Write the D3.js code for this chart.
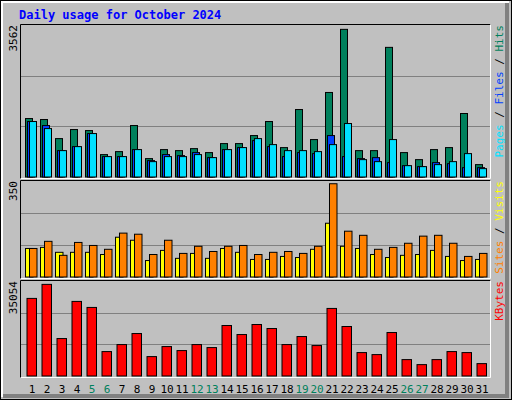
<!DOCTYPE html><html><head><script src="https://cdn.jsdelivr.net/npm/d3@7"></script>
<style>body{margin:0;background:#fff}</style></head><body><svg id="c" width="512" height="400"></svg>
<script>
const days=d3.range(1,32);
const weekends=[5,6,12,13,19,20,26,27];
const hits=[1370,1347,900,1112,1088,525,595,1206,431,642,618,665,572,783,783,971,1300,689,1581,877,1981,3460,618,618,3038,572,407,642,689,1488,290];
const files=[1300,1206,618,712,1018,478,478,642,384,525,501,572,454,642,689,853,712,478,572,548,971,478,431,454,337,266,243,337,313,219,219];
const pages=[1300,1135,618,712,1018,478,478,642,360,478,478,525,454,642,689,900,759,618,618,595,759,1253,407,360,877,266,243,290,360,548,196];
const visits=[104,108,90,90,90,82,145,134,60,97,68,86,68,104,90,64,64,75,71,101,196,112,104,82,71,79,82,97,75,60,64];
const sites=[104,130,79,126,115,101,160,156,82,134,86,112,93,112,115,82,90,93,86,112,340,167,152,101,108,123,149,152,123,75,86];
const kbytes=[28630,33810,13820,27520,25300,9010,11600,15670,7160,10860,9380,11600,10490,18630,15300,19000,17520,11600,14560,11230,24930,18260,8640,7900,16040,6050,4200,6050,9010,8640,4570];
const maxTop=3562,maxMid=350,maxBot=35054;
const svg=d3.select("#c");
svg.append("rect").attr("x",0).attr("y",0).attr("width",512).attr("height",400).attr("fill","#c0c0c0");
svg.append("rect").attr("x",0.5).attr("y",0.5).attr("width",511).attr("height",399).attr("fill","none").attr("stroke","#000");
svg.append("path").attr("d","M2,397V2H509").attr("stroke","#fff").attr("stroke-width",2).attr("fill","none");
svg.append("path").attr("d","M3,396H507V3").attr("stroke","#808080").attr("stroke-width",4).attr("fill","none");
svg.append("text").attr("x",19).attr("y",19).text("Daily usage for October 2024").attr("font-family","DejaVu Sans Mono").attr("font-weight","bold").attr("font-size",12).attr("fill","#0000ff");
const x=d3.scaleLinear().domain([1,32]).range([20,485]);
function panel(y0,y1,max,series,offs,w,label,labelParts){
  const y=d3.scaleLinear().domain([0,max]).range([y1,y0]);
  svg.append("path").attr("d",`M20.5,${y1+2}V${y0-0.5}H490.5`).attr("stroke","#000").attr("fill","none");
  svg.append("path").attr("d",`M20.5,${y1+1.5}H490.5V${y0-0.5}`).attr("stroke","#fff").attr("fill","none");
  [1/3,2/3].forEach(f=>svg.append("line").attr("x1",21).attr("x2",490).attr("y1",Math.round(y(max*f))+0.5).attr("y2",Math.round(y(max*f))+0.5).attr("stroke","#808080"));
  series.forEach((s,k)=>{
    svg.append("g").selectAll("rect").data(s.v).join("rect")
      .attr("x",(d,i)=>x(i+1)+offs[k]+0.5).attr("width",w).attr("y",d=>y(d)).attr("height",d=>y1-y(d))
      .attr("fill",s.c).attr("stroke","#000").attr("stroke-width",1);
  });
  svg.append("text").attr("transform",`translate(17,${y0}) rotate(-90)`).attr("text-anchor","end").attr("font-family","DejaVu Sans Mono").attr("font-size",11).text(max);
  const t=svg.append("text").attr("transform",`translate(503,${y0}) rotate(-90)`).attr("text-anchor","end").attr("font-family","DejaVu Sans Mono").attr("font-size",11);
  labelParts.forEach(p=>t.append("tspan").attr("fill",p[1]).text(p[0]));
}
panel(25,177,maxTop,[{v:hits,c:"#00805c"},{v:files,c:"#0040ff"},{v:pages,c:"#00e0ff"}],[5,7,9],7,"",[["Pages","#00e0ff"],[" / ","#000"],["Files","#0040ff"],[" / ","#000"],["Hits","#00805c"]]);
panel(181,277,maxMid,[{v:visits,c:"#ffff00"},{v:sites,c:"#ff8000"}],[5,9],7.5,"",[["Sites","#ff8000"],[" / ","#000"],["Visits","#ffff00"]]);
panel(281,376,maxBot,[{v:kbytes,c:"#ff0000"}],[6.5],9.5,"",[["KBytes","#ff0000"]]);
svg.append("g").selectAll("text").data(days).join("text").attr("x",d=>x(d)+12).attr("y",393).attr("text-anchor","middle")
 .attr("font-family","DejaVu Sans Mono").attr("font-size",11).attr("fill",d=>weekends.includes(d)?"#00805c":"#000").text(d=>d);
</script></body></html>
